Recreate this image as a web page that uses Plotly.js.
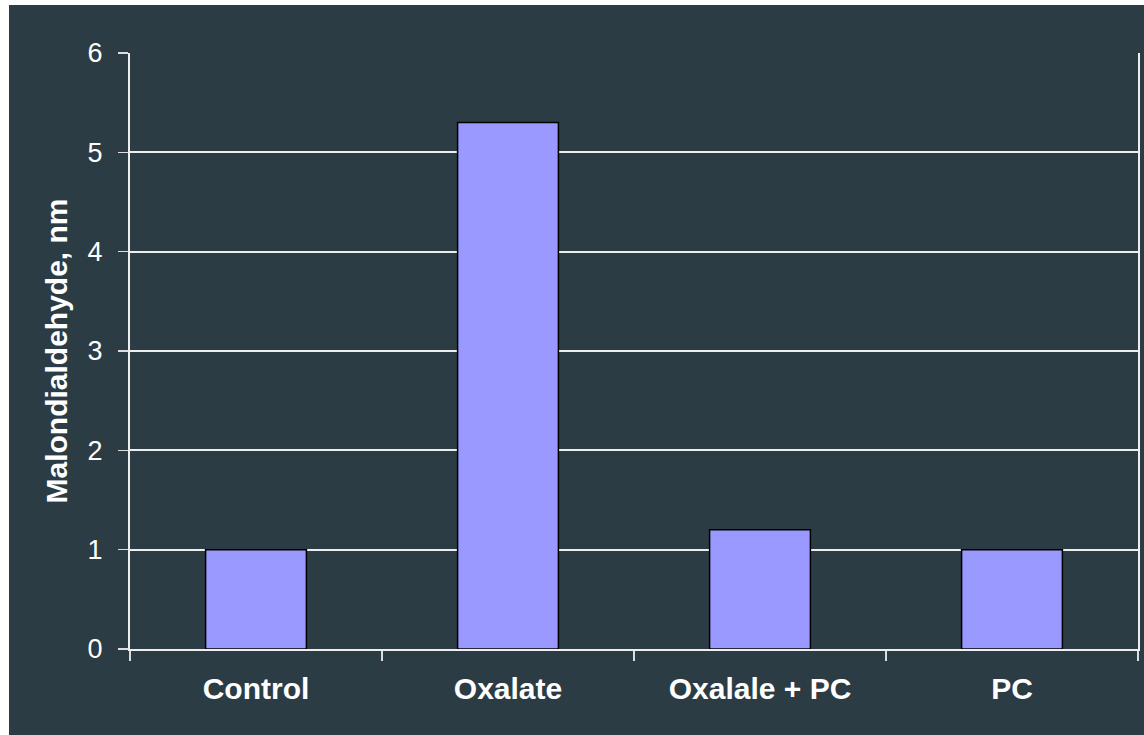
<!DOCTYPE html>
<html>
<head>
<meta charset="utf-8">
<script src="https://cdn.plot.ly/plotly-3.0.1.min.js"></script>
<style>html,body{margin:0;padding:0;background:#2c3c44;overflow:hidden;}#chart{width:1144px;height:735px;}</style>
</head>
<body>
<div id="chart"></div>
<script>
var categories = ["Control", "Oxalate", "Oxalale + PC", "PC"];
var values = [1.0, 5.3, 1.2, 1.0];
var yTicks = [0, 1, 2, 3, 4, 5, 6];
var yTitle = "Malondialdehyde, nm";

var bg = "#2c3c44";
var fontFam = "'Liberation Sans', Arial, sans-serif";

var trace = {
  type: "bar",
  x: categories,
  y: values,
  marker: {color: "#9999ff", line: {color: "#000000", width: 1.5}},
  hoverinfo: "x+y"
};

var layout = {
  width: 1144,
  height: 735,
  margin: {l: 130, r: 6, t: 53, b: 86, pad: 0},
  paper_bgcolor: bg,
  plot_bgcolor: bg,
  bargap: 0.6,
  showlegend: false,
  font: {family: fontFam, color: "#ffffff"},
  shapes: [
    {type: "rect", xref: "paper", yref: "paper", layer: "above",
     x0: -0.2, x1: -0.12004, y0: -0.3, y1: 1.2,
     fillcolor: "#ffffff", line: {width: 0}},
    {type: "rect", xref: "paper", yref: "paper", layer: "above",
     x0: -0.2, x1: 1.1, y0: 1.0805, y1: 1.2,
     fillcolor: "#ffffff", line: {width: 0}}
  ],
  xaxis: {
    type: "category",
    range: [-0.5, 3.5],
    tickson: "boundaries",
    ticks: "outside",
    ticklen: 10,
    tickwidth: 1.5,
    tickcolor: "#dddddd",
    showline: true,
    linecolor: "#eeeeee",
    linewidth: 2,
    showgrid: false,
    tickfont: {family: fontFam, size: 30, color: "#ffffff", weight: "bold"},
    ticklabelstandoff: 12,
    fixedrange: true
  },
  yaxis: {
    range: [0, 6],
    tickvals: yTicks,
    ticktext: yTicks.map(String),
    ticks: "outside",
    ticklen: 10,
    tickwidth: 1.5,
    tickcolor: "#dddddd",
    showline: true,
    mirror: true,
    linecolor: "#eeeeee",
    linewidth: 2,
    showgrid: true,
    gridcolor: "#eeeeee",
    gridwidth: 2,
    zeroline: false,
    tickfont: {family: fontFam, size: 27, color: "#ffffff"},
    ticklabelstandoff: 10,
    title: {text: yTitle, font: {family: fontFam, size: 30, color: "#ffffff", weight: "bold"}, standoff: 11},
    fixedrange: true
  }
};

Plotly.newPlot("chart", [trace], layout, {displayModeBar: false, staticPlot: true});
</script>
</body>
</html>
